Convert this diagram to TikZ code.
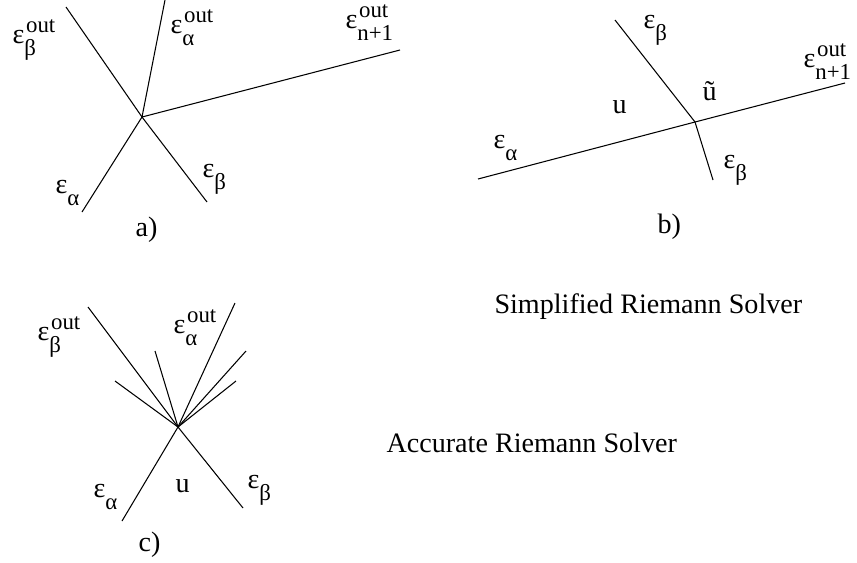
\documentclass[tikz,border=0pt]{standalone}
\usepackage{fontspec}
\setmainfont{Liberation Serif}
\usepackage{tikz}

\newcommand{\scr}{\fontsize{13}{15}\selectfont}
\newcommand{\eps}[2]{ε\rlap{\kern1pt\raisebox{6pt}{\scr #2}}\raisebox{-7pt}{\scr #1}}

\begin{document}
\begin{tikzpicture}[x=0.02cm,y=-0.02cm,line width=0.6pt,
	every node/.style={inner sep=0pt,anchor=base west,font=\fontsize{16}{19}\selectfont}]
				\useasboundingbox (0,0) rectangle (857,562);
				% a)
				\coordinate (ca) at (142,117);
				\coordinate (a1) at (66,7);
				\coordinate (a2) at (165,0);
				\coordinate (a3) at (400,50);
				\coordinate (a4) at (82,212);
				\coordinate (a5) at (207,202);
				\draw (a1) -- (ca) -- (a5);
				\draw (a2) -- (ca) -- (a3);
				\draw (ca) -- (a4);
				\node (la1) at (12,43) {\eps{β}{out}};
				\node (la2) at (170,33) {\eps{α}{out}};
				\node (la3) at (345,28) {\eps{n+1}{out}};
				\node (la4) at (55,193) {\eps{α}{}};
				\node (la5) at (202,177) {\eps{β}{}};
				\node (capa) at (135,236) {a)};
				
				% b)
				\coordinate (cb) at (695,122);
				\coordinate (b1) at (615,20);
				\coordinate (b2) at (713,180);
				\coordinate (b3) at (478,179);
				\coordinate (b4) at (845,83);
				\draw (b1) -- (cb) -- (b2);
				\draw (b3) -- (cb) -- (b4);
				\node (lb1) at (643,28) {\eps{β}{}};
				\node (lb2) at (493,148) {\eps{α}{}};
				\node (lb3) at (723,168) {\eps{β}{}};
				\node (lb4) at (803,67) {\eps{n+1}{out}};
				\node (ub) at (612,113) {u};
				\node (utb) at (702,100) {\~{u}};
				\node (capb) at (657,233) {b)};
				
				% c)
				\coordinate (cc) at (178,427);
				\coordinate (c1) at (88,307);
				\coordinate (c2) at (243,508);
				\coordinate (c3) at (115,381);
				\coordinate (c4) at (155,351);
				\coordinate (c5) at (235,303);
				\coordinate (c6) at (246,351);
				\coordinate (c7) at (236,381);
				\coordinate (c8) at (122,521);
				\draw (c1) -- (cc) -- (c2);
				\foreach \e in {c3,c4,c5,c6,c7,c8}
					\draw (cc) -- (\e);
				\node (lc1) at (37,340) {\eps{β}{out}};
				\node (lc2) at (173,333) {\eps{α}{out}};
				\node (lc3) at (93,497) {\eps{α}{}};
				\node (lc4) at (247,488) {\eps{β}{}};
				\node (uc) at (175,492) {u};
				\node (capc) at (138,551) {c)};
				
				\node (simple) at (494,313) {Simplified Riemann Solver};
				\node (accurate) at (386,452) {Accurate Riemann Solver};
			\end{tikzpicture}
\end{document}
